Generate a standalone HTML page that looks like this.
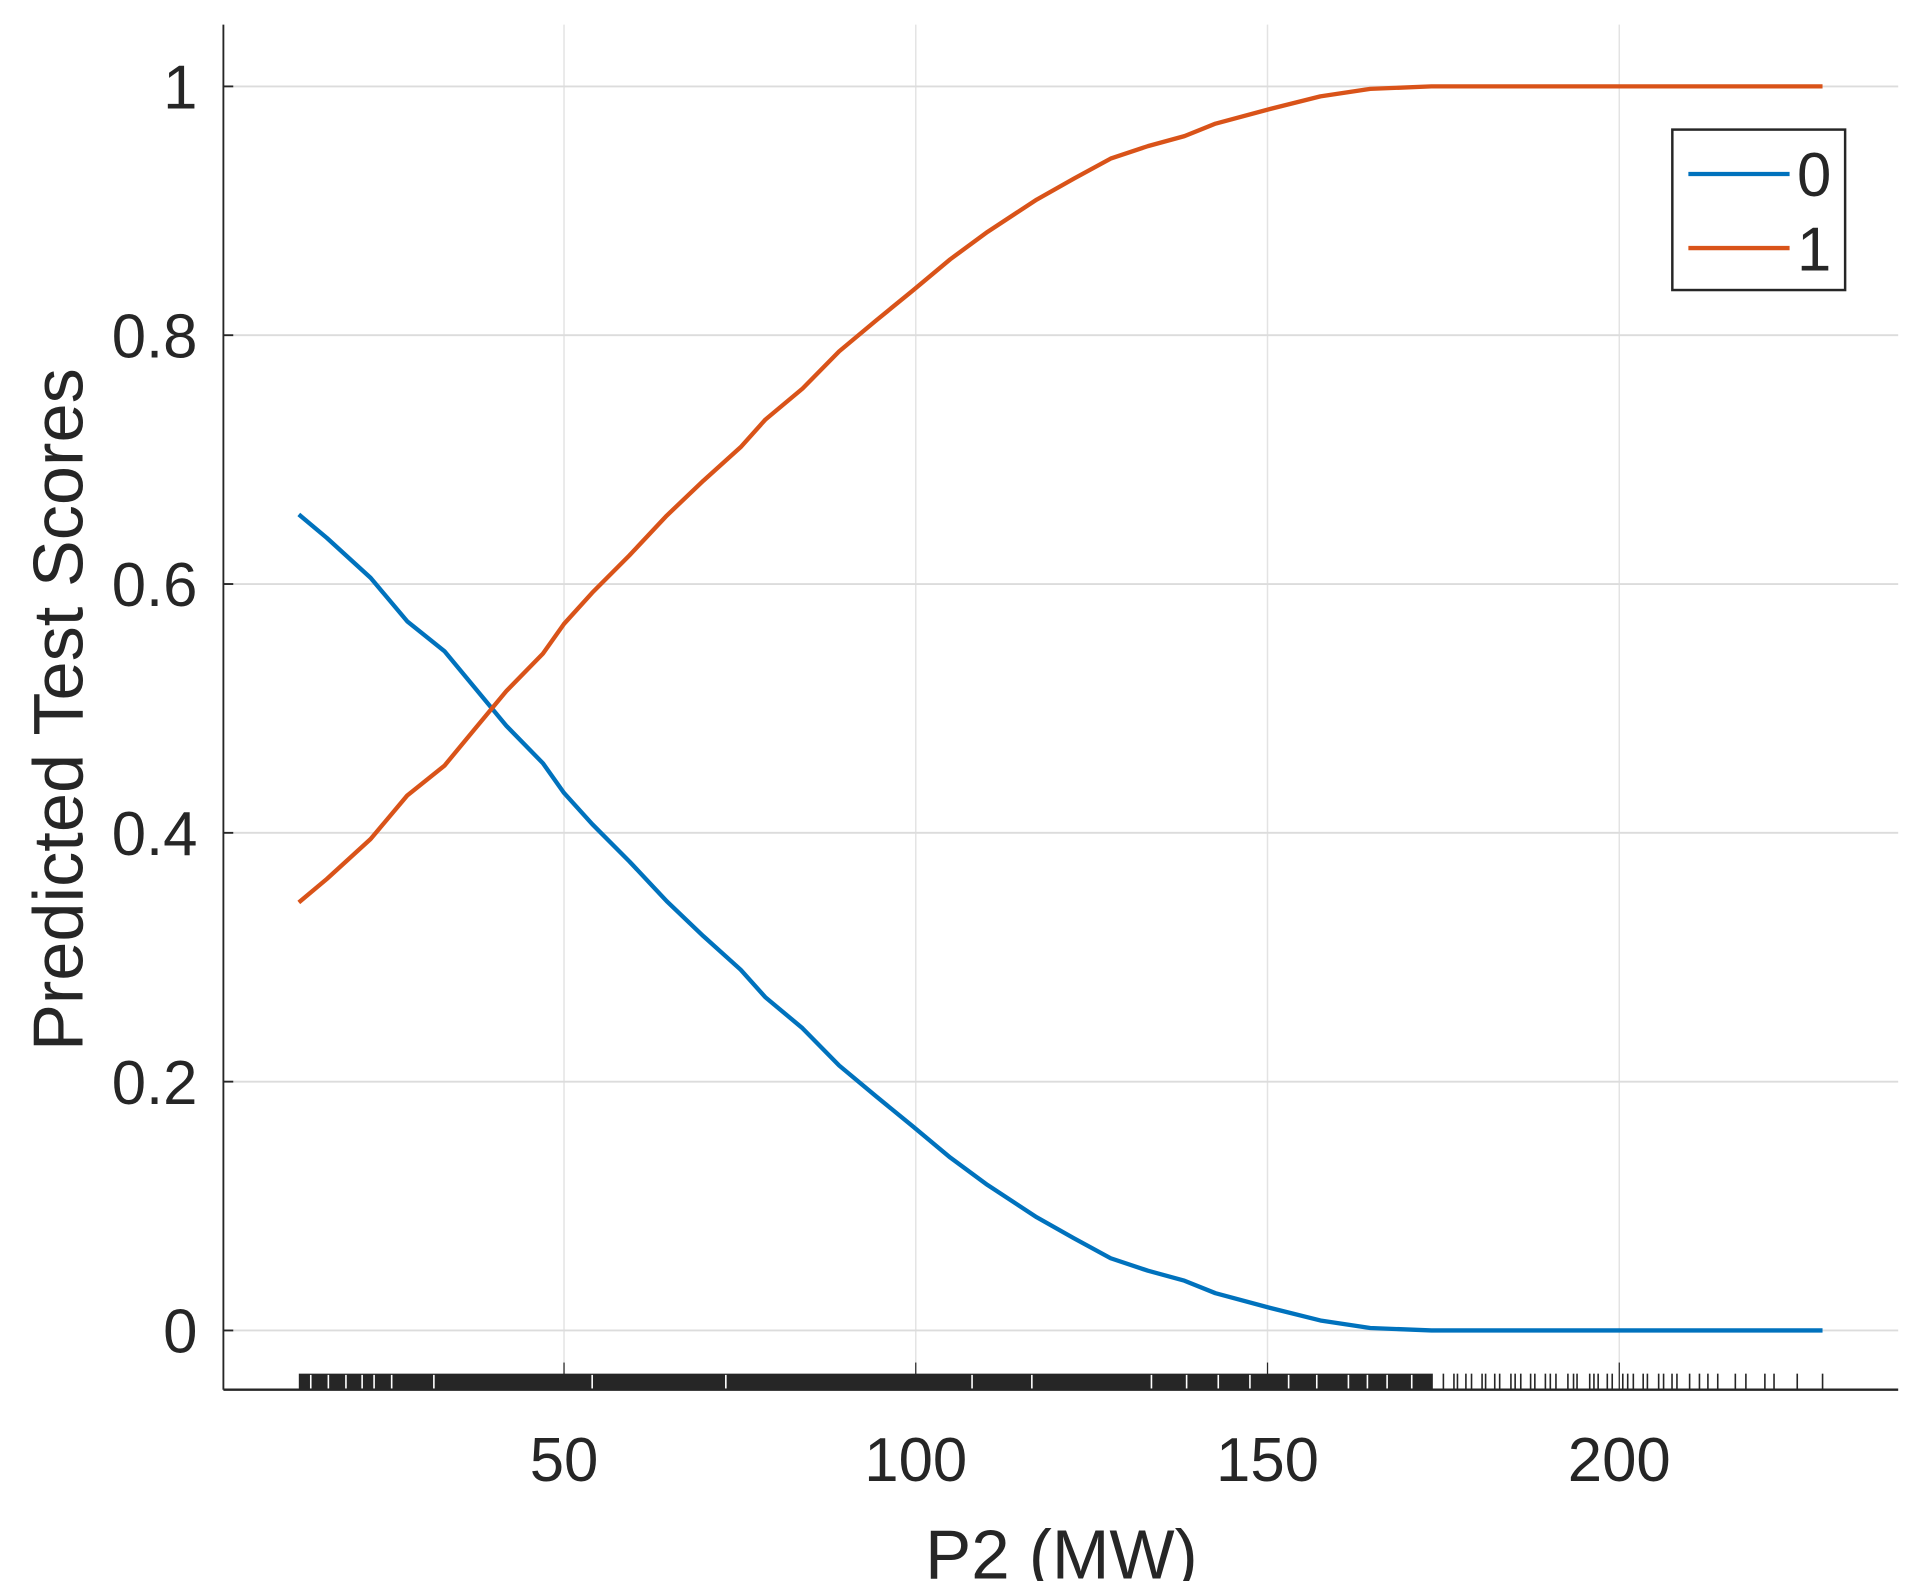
<!DOCTYPE html>
<html><head><meta charset="utf-8"><style>
html,body{margin:0;padding:0;background:#fff;}
svg{display:block;font-family:"Liberation Sans",Arial,sans-serif;}
</style></head><body>
<svg id="chart" width="1913" height="1581" viewBox="0 0 1550 1281" xmlns="http://www.w3.org/2000/svg">
<g id="grid"></g>
<g id="rug"></g>
<g id="axes"></g>
<g id="series"></g>
<text transform="translate(67,575) rotate(-90)" text-anchor="middle" font-size="57" fill="#262626">Predicted Test Scores</text>
<text x="860" y="1279" text-anchor="middle" font-size="56" fill="#262626">P2 (MW)</text>
<g>
<rect x="1355" y="105" width="140" height="130" fill="#fff" stroke="#262626" stroke-width="2"/>
<line x1="1368" y1="141" x2="1450" y2="141" stroke="#0072BD" stroke-width="3.5"/>
<text x="1456" y="159" font-size="50" fill="#262626">0</text>
<line x1="1368" y1="201" x2="1450" y2="201" stroke="#D95319" stroke-width="3.5"/>
<text x="1456" y="219" font-size="50" fill="#262626">1</text>
</g>
</svg>
<script>
const xData = [12.3,16.3,22.5,27.7,33.0,37.4,41.8,47.0,50.0,54.0,59.3,64.6,69.8,75.1,78.6,83.9,89.1,94.4,99.6,104.9,110.2,117.2,122.5,127.7,133.0,138.2,142.6,150.5,157.5,164.6,173.3,228.9];
const class1Scores = [0.344,0.363,0.395,0.430,0.454,0.484,0.514,0.544,0.568,0.593,0.623,0.655,0.683,0.710,0.732,0.757,0.787,0.812,0.836,0.861,0.883,0.909,0.926,0.942,0.952,0.960,0.970,0.982,0.992,0.998,1.0,1.0];
const class0Scores = [0.656,0.637,0.605,0.570,0.546,0.516,0.486,0.456,0.432,0.407,0.377,0.345,0.317,0.290,0.268,0.243,0.213,0.188,0.164,0.139,0.117,0.091,0.074,0.058,0.048,0.040,0.030,0.018,0.008,0.002,0.0,0.0];
const xTicks = [50,100,150,200];
const yTicks = [0,0.2,0.4,0.6,0.8,1];
const yTickLabels = ["0","0.2","0.4","0.6","0.8","1"];
const rugGaps = [14,16.5,19,21.3,23,25.5,31.5,54,73,108,116.5,133.5,138.5,143,147.5,153,157,161.5,164.2,167,170.5];
const rugSparse = [175,176.5,177,178.2,179,180.5,181,182.3,183,184.6,185.2,186,187.4,188,189.5,190.2,191,192.7,193.5,194,195.8,196.4,197,198.3,199,200.5,201.2,202,203.4,204,205.6,206.3,207.5,208.2,210,211.4,212.6,214,216.5,218,220.7,222,225.3,228.9];
const rugDenseStart = 12.3, rugDenseEnd = 173.5;

const NS="http://www.w3.org/2000/svg";
const sx = v => 172 + v*5.7;
const sy = v => 1078 - v*1008;
const L=181,R=1538,T=20,B=1126;
function mk(tag, attrs, parent){const e=document.createElementNS(NS,tag);for(const k in attrs)e.setAttribute(k,attrs[k]);parent.appendChild(e);return e;}
const grid=document.getElementById('grid'), axes=document.getElementById('axes'), rug=document.getElementById('rug'), series=document.getElementById('series');
xTicks.forEach(t=>{
  const g=mk('line',{x1:sx(t),x2:sx(t),y1:T,y2:B,stroke:'#e3e3e3','stroke-width':1.2},grid);
  
  
  const lb=mk('text',{x:sx(t),y:1200,'text-anchor':'middle','font-size':50,fill:'#262626'},axes);
  lb.textContent=t;
  
  
  const tk=mk('line',{x1:sx(t),x2:sx(t),y1:B-22,y2:B,stroke:'#262626','stroke-width':1},axes);
  
  
});
yTicks.forEach((t,i)=>{
  const g=mk('line',{x1:L,x2:R,y1:sy(t),y2:sy(t),stroke:'#dcdcdc','stroke-width':1.5},grid);
  
  
  const lb=mk('text',{x:160,y:sy(t)+18,'text-anchor':'end','font-size':50,fill:'#262626'},axes);
  lb.textContent=yTickLabels[i];
  
  
  const tk=mk('line',{x1:L,x2:L+8,y1:sy(t),y2:sy(t),stroke:'#262626','stroke-width':1.5},axes);
  
  
});
const dense=mk('rect',{x:sx(rugDenseStart),y:B-13,width:sx(rugDenseEnd)-sx(rugDenseStart),height:13,fill:'#262626'},rug);


rugGaps.forEach(v=>{
  const l=mk('line',{x1:sx(v),x2:sx(v),y1:B-12,y2:B-1,stroke:'#fff','stroke-width':1.3},rug);
  
  
});
rugSparse.forEach(v=>{
  const l=mk('line',{x1:sx(v),x2:sx(v),y1:B-13,y2:B,stroke:'#262626','stroke-width':1.3},rug);
  
  
});
const ax=mk('line',{x1:L,x2:L,y1:T,y2:B,stroke:'#262626','stroke-width':1.5},axes);


const bx=mk('line',{x1:L,x2:R,y1:B,y2:B,stroke:'#262626','stroke-width':2},axes);


function path(vals,color,name){
  const d=vals.map((v,i)=>(i?'L':'M')+sx(xData[i]).toFixed(1)+','+sy(v).toFixed(1)).join(' ');
  const p=mk('path',{d:d,fill:'none',stroke:color,'stroke-width':3.5,'stroke-linejoin':'round'},series);
  
  
}
path(class0Scores,'#0072BD','line-class-0');
path(class1Scores,'#D95319','line-class-1');
</script>
</body></html>
